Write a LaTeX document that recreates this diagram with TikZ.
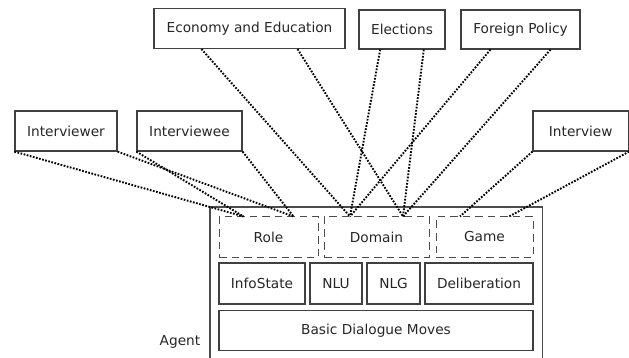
\documentclass[tikz,border=0pt]{standalone}
\usepackage{fontspec}
\setmainfont{DejaVu Sans}
\usetikzlibrary{calc}
\begin{document}
\begin{tikzpicture}[x=1pt,y=-1pt,
  box/.style={draw=black!75,line width=1.2pt,inner sep=0pt,font=\fontsize{13.7}{16}\selectfont,text=black!85},
  dbox/.style={box,draw=black!70,line width=1pt,dash pattern=on 7.5pt off 5pt},
  link/.style={draw=black,line width=1.9pt,dash pattern=on 1.7pt off 1.5pt}]
\useasboundingbox (0,0) rectangle (629,358);
% outer agent frame
\draw[black!70,line width=1.1pt] (210,360) -- (210,207) -- (542.5,207) -- (542.5,360);
\node[font=\fontsize{13.7}{16}\selectfont,text=black!85] (agent) at (180,342) {Agent};
% top boxes
\node[box,minimum width=191pt,minimum height=40pt] (eco) at (249.5,28.5) {Economy and Education};
\node[box,minimum width=86pt,minimum height=39pt] (elec) at (402,29.5) {Elections};
\node[box,minimum width=119pt,minimum height=39pt] (fp) at (520.5,29.5) {Foreign Policy};
\node[box,minimum width=102pt,minimum height=40pt] (ivwer) at (66,131) {Interviewer};
\node[box,minimum width=105pt,minimum height=40pt] (ivwee) at (189.5,131) {Interviewee};
\node[box,minimum width=95.5pt,minimum height=40pt] (ivw) at (580.75,131) {Interview};
% agent components
\node[dbox,minimum width=99pt,minimum height=40pt] (role) at (268.5,237) {Role};
\node[dbox,minimum width=105pt,minimum height=40pt] (dom) at (376.5,237) {Domain};
\node[dbox,minimum width=97pt,minimum height=40pt] (game) at (484.5,237) {Game};
\node[box,minimum width=86pt,minimum height=41pt] (info) at (262,283.5) {InfoState};
\node[box,minimum width=52pt,minimum height=41pt] (nlu) at (336,283.5) {NLU};
\node[box,minimum width=53pt,minimum height=41pt] (nlg) at (393.5,283.5) {NLG};
\node[box,minimum width=108pt,minimum height=41pt] (delib) at (479,283.5) {Deliberation};
\node[box,minimum width=314pt,minimum height=40pt] (bdm) at (376,330.5) {Basic Dialogue Moves};
% connectors
\path[link] (ivwer.south west) -- ($(role.north west)!0.25!(role.north east)$);
\path[link] (ivwer.south east) -- ($(role.north west)!0.75!(role.north east)$);
\path[link] (ivwee.south west) -- ($(role.north west)!0.25!(role.north east)$);
\path[link] (ivwee.south east) -- ($(role.north west)!0.75!(role.north east)$);
\path[link] ($(eco.south west)!0.25!(eco.south east)$) -- ($(dom.north west)!0.25!(dom.north east)$);
\path[link] ($(eco.south west)!0.75!(eco.south east)$) -- ($(dom.north west)!0.75!(dom.north east)$);
\path[link] ($(elec.south west)!0.25!(elec.south east)$) -- ($(dom.north west)!0.25!(dom.north east)$);
\path[link] ($(elec.south west)!0.75!(elec.south east)$) -- ($(dom.north west)!0.75!(dom.north east)$);
\path[link] ($(fp.south west)!0.25!(fp.south east)$) -- ($(dom.north west)!0.25!(dom.north east)$);
\path[link] ($(fp.south west)!0.75!(fp.south east)$) -- ($(dom.north west)!0.75!(dom.north east)$);
\path[link] (ivw.south west) -- ($(game.north west)!0.25!(game.north east)$);
\path[link] (ivw.south east) -- ($(game.north west)!0.75!(game.north east)$);
\end{tikzpicture}
\end{document}
